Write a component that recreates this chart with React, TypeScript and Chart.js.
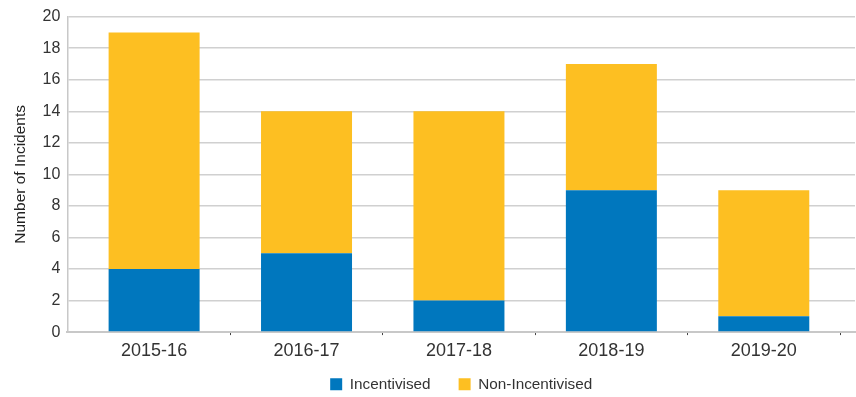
import React, { useEffect, useRef } from "react";
import { Chart, registerables } from "chart.js";

Chart.register(...registerables);

const categories = ["2015-16", "2016-17", "2017-18", "2018-19", "2019-20"];
const incentivised = [4, 5, 2, 9, 1];
const nonIncentivised = [15, 9, 12, 8, 8];
const yTicks = [0, 2, 4, 6, 8, 10, 12, 14, 16, 18, 20];

const FONT = "'Liberation Sans', Arial, Helvetica, sans-serif";

const layoutTweaks = {
  id: "layoutTweaks",
  afterLayout(chart: any) {
    const xs = chart.scales.x;
    if (xs) {
      xs._startPixel = xs.left + 10.5;
      xs._endPixel = xs.right - 15;
      xs._length = xs._endPixel - xs._startPixel;
    }
    const lg = chart.legend;
    if (lg) {
      lg.left = chart.chartArea.left;
      lg.right = chart.chartArea.right;
      lg.width = lg.right - lg.left;
      const dy = -18;
      lg.top += dy;
      lg.bottom += dy;
    }
  },
};

export default function App() {
  const ref = useRef<HTMLCanvasElement | null>(null);
  useEffect(() => {
    if (!ref.current) return;
    const chart = new Chart(ref.current, {
      type: "bar",
      data: {
        labels: categories,
        datasets: [
          {
            label: "Incentivised",
            data: incentivised,
            backgroundColor: "#0077be",
            categoryPercentage: 0.597,
            barPercentage: 1,
          },
          {
            label: "Non-Incentivised",
            data: nonIncentivised,
            backgroundColor: "#fdbf22",
            categoryPercentage: 0.597,
            barPercentage: 1,
          },
        ],
      },
      options: {
        animation: false,
        responsive: false,
        maintainAspectRatio: false,
        layout: { padding: { top: 8, right: 1, left: 11, bottom: -23 } },
        plugins: {
          legend: {
            position: "bottom",
            labels: {
              boxWidth: 12,
              boxHeight: 12,
              padding: 28,
              color: "#333",
              font: { family: FONT, size: 15.3 },
            },
          },
          tooltip: { enabled: false },
        },
        scales: {
          x: {
            stacked: true,
            offset: true,
            grid: {
              offset: true,
              drawOnChartArea: false,
              drawTicks: true,
              tickLength: 3,
              color: (ctx: any) =>
                ctx.index === 0 || ctx.index >= categories.length ? "rgba(0,0,0,0)" : "#444",
            },
            border: { color: "#c8c8c8", width: 2 },
            ticks: {
              color: "#333",
              font: { family: FONT, size: 18 },
              padding: 5,
            },
          },
          y: {
            stacked: true,
            min: 0,
            max: 20,
            afterBuildTicks: (axis: any) => {
              axis.ticks = yTicks.map((v) => ({ value: v }));
            },
            grid: { color: "#d0d0d0", lineWidth: 1.5, drawTicks: false },
            border: { color: "#c8c8c8", width: 1.5 },
            ticks: {
              color: "#333",
              font: { family: FONT, size: 16 },
              padding: 7,
            },
            title: {
              display: true,
              text: "Number of Incidents",
              color: "#222",
              font: { family: FONT, size: 15.5 },
              padding: { top: 0, bottom: 6 },
            },
          },
        },
      },
      plugins: [layoutTweaks],
    });
    return () => chart.destroy();
  }, []);
  return (
    <div style={{ position: "absolute", left: 0, top: 0, width: 856, height: 397, background: "#fff" }}>
      <canvas ref={ref} width={856} height={397} style={{ width: 856, height: 397 }} />
    </div>
  );
}
